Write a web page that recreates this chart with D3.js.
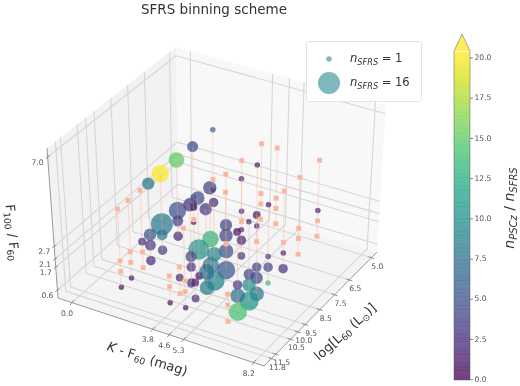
<!DOCTYPE html>
<html>
<head>
<meta charset="utf-8">
<script src="https://cdn.jsdelivr.net/npm/d3@7"></script>
<style>
    html, body { margin: 0; padding: 0; background: #fff; }
    svg { display: block; filter: blur(0.5px); }
    text { font-family: "DejaVu Sans", sans-serif; }
</style>
</head>
<body>
<svg id="chart" width="520" height="386"></svg>
<script>
// tick values, these are also the bin edges
const kTicks = [0.0, 3.8, 4.6, 5.3, 8.2]
const lTicks = [5.0, 6.5, 7.5, 8.5, 9.5, 10.0, 10.5, 11.5, 11.8]
const fTicks = [0.6, 1.7, 2.1, 2.7, 7.0]
const colorTicks = [0, 2.5, 5, 7.5, 10, 12.5, 15, 17.5, 20]

// filled bins: one entry per bubble, values are the bin centres
const bubbleK = [
    1.9, 1.9, 1.9, 1.9, 1.9, 1.9, 1.9, 1.9, 1.9, 1.9, 1.9, 1.9, 1.9, 1.9, 1.9, 1.9, 1.9, 1.9, 1.9, 1.9, 1.9,
    4.2, 4.2, 4.2, 4.2, 4.2, 4.2, 4.2, 4.2, 4.2, 4.2, 4.2, 4.2, 4.2, 4.2, 4.2, 4.2,
    4.95, 4.95, 4.95, 4.95, 4.95, 4.95, 4.95, 4.95, 4.95, 4.95, 4.95, 4.95, 4.95, 4.95, 4.95, 4.95,
    6.75, 6.75, 6.75, 6.75, 6.75, 6.75, 6.75, 6.75, 6.75, 6.75, 6.75, 6.75, 6.75, 6.75, 6.75, 6.75, 6.75, 6.75, 6.75]
const bubbleL = [
    5.75, 7, 8, 9, 9.75, 5.75, 7, 7, 7, 8, 8, 8, 9, 9, 9, 9.75, 9.75, 9.75, 10.25, 11, 11.65,
    9, 9.75, 10.25, 7, 8, 8, 8, 9, 9.75, 10.25, 9, 9.75, 10.25, 10.25, 11, 11.65,
    7, 8, 9.75, 10.25, 7, 8, 8, 8, 9, 9.75, 10.25, 9.75, 10.25, 11, 11, 11.65,
    9, 9.75, 10.25, 11, 9, 9, 9, 9.75, 9.75, 10.25, 10.25, 9.75, 10.25, 11, 11, 11, 5.75, 8, 8]
const bubbleF = [
    4.85, 4.85, 4.85, 4.85, 4.85, 1.9, 2.4, 1.9, 1.15, 2.4, 1.9, 1.15, 2.4, 1.9, 1.15, 2.4, 1.9, 1.15, 2.4, 1.15, 1.15,
    4.85, 4.85, 4.85, 2.4, 2.4, 1.9, 1.15, 2.4, 2.4, 2.4, 1.15, 1.15, 1.9, 1.15, 1.9, 1.15,
    4.85, 4.85, 4.85, 4.85, 1.9, 2.4, 1.9, 1.15, 1.15, 2.4, 1.9, 1.15, 1.15, 1.9, 1.15, 1.15,
    4.85, 4.85, 4.85, 4.85, 2.4, 1.9, 1.15, 2.4, 1.9, 2.4, 1.9, 1.15, 1.15, 2.4, 1.9, 1.15, 2.4, 1.9, 1.15]
const bubbleN = [
    1, 4, 8, 10, 5, 1, 1, 2, 1, 10, 4, 3, 16, 4, 3, 5, 4, 3, 2, 1, 1,
    6, 6, 6, 1, 5, 6, 7, 9, 14, 4, 9, 2, 3, 3, 2, 1,
    1, 1, 3, 5, 1, 1, 3, 2, 11, 7, 8, 13, 7, 2, 2, 1,
    1, 2, 1, 2, 1, 3, 1, 3, 5, 4, 6, 7, 12, 3, 7, 11, 1, 1, 3]
const bubbleRatio = [
    6, 4.5, 15, 20, 7.5, 3, 6, 0.8, 1, 5, 3.5, 2.5, 8, 7.5, 4, 5, 3.5, 2.5, 2.5, 1.5, 1.5,
    4, 4.5, 3, 2.5, 4, 4, 5, 13, 10, 4, 8, 1, 3, 3, 2, 1,
    1.5, 2, 2.5, 3.5, 2, 2, 2, 3.5, 5.5, 9, 7.5, 9, 8.5, 2, 3, 1,
    1.5, 1, 2, 0.8, 3, 4, 14, 4, 4.5, 4, 10, 8, 10.5, 3.5, 7, 14, 2, 2, 3]

// empty-SFRS bins, drawn as the orange markers
const squareK = [
    1.9, 1.9, 1.9, 1.9, 1.9, 1.9, 1.9, 1.9, 1.9, 1.9,
    4.2, 4.2, 4.2, 4.2, 4.2, 4.2, 4.2, 4.2, 4.2, 4.2, 4.2,
    4.95, 4.95, 4.95, 4.95, 4.95, 4.95, 4.95, 4.95, 4.95, 4.95, 4.95,
    6.75, 6.75, 6.75, 6.75, 6.75, 6.75, 6.75, 6.75, 6.75, 6.75, 6.75, 6.75]
const squareL = [
    10.25, 11, 11.65, 5.75, 11.65, 11.65, 11, 11, 10.25, 10.25,
    5.75, 5.75, 5.75, 5.75, 7, 7, 8, 11, 11.65, 11.65, 11,
    5.75, 5.75, 5.75, 5.75, 9, 9, 11, 11.65, 11.65, 11.65, 7,
    5.75, 5.75, 5.75, 7, 7, 7, 7, 8, 8, 11.65, 11.65, 11.65]
const squareF = [
    4.85, 4.85, 4.85, 2.4, 2.4, 1.9, 2.4, 1.9, 1.9, 1.15,
    4.85, 2.4, 1.9, 1.15, 4.85, 1.9, 4.85, 2.4, 2.4, 1.9, 1.15,
    4.85, 2.4, 1.9, 1.15, 4.85, 2.4, 4.85, 4.85, 2.4, 1.9, 1.15,
    4.85, 1.9, 1.15, 4.85, 2.4, 1.9, 1.15, 4.85, 2.4, 2.4, 1.9, 1.15]

const svg = d3.select('#chart')

// normalised box coordinates
const ku = d3.scaleLinear().domain(kTicks).range([0.068, 0.46, 0.54, 0.61, 0.95])
const lv = d3.scaleLinear().domain([5, 11.8]).range([0.05, 0.935])
const fw = d3.scaleLinear().domain([0.6, 7]).range([0.053, 0.94])
const radius = d3.scaleSqrt().domain([0, 16]).range([0, 11])
const color = d3.scaleSequential(d3.interpolateViridis).domain([0, 20])

// screen position of the box corners (perspective is close to trilinear here)
const floorBack = [178, 192], floorLeft = [58, 298], floorFront = [264, 366], floorRight = [377, 252]
const topBack = [176, 47], topLeft = [47, 148], topFront = [263, 206], topRight = [386, 105]

function box(u, v, w) {
    const back = d3.interpolate(floorBack, floorRight)(u)
    const near = d3.interpolate(floorLeft, floorFront)(u)
    const tBack = d3.interpolate(topBack, topRight)(u)
    const tNear = d3.interpolate(topLeft, topFront)(u)
    const low = d3.interpolate(back, near)(v)
    const high = d3.interpolate(tBack, tNear)(v)
    return d3.interpolate(low, high)(w)
}
const pt = (k, l, f) => box(ku(k), lv(l), fw(f))

const line = d3.line()
const poly = pts => line(pts) + 'Z'

// panes
const panes = svg.append('g')
panes.append('path').attr('d', poly([box(0, 0, 0), box(0, 1, 0), box(0, 1, 1), box(0, 0, 1)])).attr('fill', '#f2f2f2')
panes.append('path').attr('d', poly([box(0, 0, 0), box(1, 0, 0), box(1, 0, 1), box(0, 0, 1)])).attr('fill', '#f8f8f8')
panes.append('path').attr('d', poly([box(0, 0, 0), box(1, 0, 0), box(1, 1, 0), box(0, 1, 0)])).attr('fill', '#f4f4f4')

// grid
const gridSegs = []
kTicks.forEach(k => {
    const u = ku(k)
    gridSegs.push([box(u, 0, 0), box(u, 1, 0)])
    gridSegs.push([box(u, 0, 0), box(u, 0, 1)])
})
lTicks.forEach(l => {
    const v = lv(l)
    gridSegs.push([box(0, v, 0), box(1, v, 0)])
    gridSegs.push([box(0, v, 0), box(0, v, 1)])
})
fTicks.forEach(f => {
    const w = fw(f)
    gridSegs.push([box(0, 0, w), box(1, 0, w)])
    gridSegs.push([box(0, 0, w), box(0, 1, w)])
})
svg.append('g').selectAll('path')
    .data(gridSegs)
    .join('path')
    .attr('d', line)
    .attr('fill', 'none')
    .attr('stroke', '#d6d6d6')
    .attr('stroke-width', 1.1)

// axis edges
svg.append('path')
    .attr('d', line([box(0, 1, 1), box(0, 1, 0), box(1, 1, 0), box(1, 0, 0)]))
    .attr('fill', 'none')
    .attr('stroke', '#999')
    .attr('stroke-width', 1)

function drawTicks(vals, toPt, dir, labelOff, fmt) {
    const g = svg.append('g')
    vals.forEach(val => {
        const p = toPt(val)
        g.append('line')
            .attr('x1', p[0] - dir[0]).attr('y1', p[1] - dir[1])
            .attr('x2', p[0] + dir[0]).attr('y2', p[1] + dir[1])
            .attr('stroke', '#777').attr('stroke-width', 0.8)
        g.append('text')
            .attr('x', p[0] + labelOff[0]).attr('y', p[1] + labelOff[1])
            .attr('text-anchor', 'middle').attr('dominant-baseline', 'middle')
            .attr('font-size', 7.6).attr('fill', '#555')
            .text(fmt(val))
    })
}
const fmt1 = d3.format('.1f')
drawTicks(kTicks, k => box(ku(k), 1, 0), [2, -2.5], [-5, 11], fmt1)
drawTicks(lTicks, l => box(1, lv(l), 0), [-3, -1], [6, 9], fmt1)
drawTicks(fTicks, f => box(0, 1, fw(f)), [2, -1.5], [-10, 6], fmt1)

// bubbles, back to front
const bubbles = bubbleK.map((k, i) => ({k, l: bubbleL[i], f: bubbleF[i], n: bubbleN[i], ratio: bubbleRatio[i]}))
const squares = squareK.map((k, i) => ({k, l: squareL[i], f: squareF[i]}))
bubbles.sort((a, b) => (ku(a.k) + lv(a.l) - fw(a.f) * 0.1) - (ku(b.k) + lv(b.l) - fw(b.f) * 0.1))

svg.append('g').selectAll('circle')
    .data(bubbles)
    .join('circle')
    .attr('cx', d => pt(d.k, d.l, d.f)[0])
    .attr('cy', d => pt(d.k, d.l, d.f)[1])
    .attr('r', d => radius(d.n))
    .attr('fill', d => color(d.ratio))
    .attr('fill-opacity', 0.72)

// vertical stems joining every bin of a column
const columns = d3.rollups(
    bubbles.concat(squares),
    rows => d3.extent(rows, d => d.f),
    d => d.k + '|' + d.l
)
svg.append('g').selectAll('path')
    .data(columns)
    .join('path')
    .attr('d', d => {
        const [k, l] = d[0].split('|').map(Number)
        return line([pt(k, l, d[1][0]), pt(k, l, d[1][1])])
    })
    .attr('stroke', '#f6a98c')
    .attr('stroke-opacity', 0.3)
    .attr('stroke-width', 1.2)

const sq = d3.symbol().type(d3.symbolSquare).size(26)
const xm = d3.symbol().type(d3.symbolX).size(10)
const marks = svg.append('g').selectAll('g')
    .data(squares)
    .join('g')
    .attr('transform', d => `translate(${pt(d.k, d.l, d.f)})`)
marks.append('path').attr('d', sq()).attr('fill', '#fbc3ae')
marks.append('path').attr('d', xm()).attr('fill', 'none').attr('stroke', '#f5a88c').attr('stroke-width', 1)

// titles and axis labels
svg.append('text')
    .attr('x', 214).attr('y', 14).attr('text-anchor', 'middle')
    .attr('font-size', 13.5).attr('fill', '#333')
    .text('SFRS binning scheme')

function axisLabel(x, y, rot, parts, size) {
    const t = svg.append('text')
        .attr('transform', `translate(${x},${y}) rotate(${rot})`)
        .attr('text-anchor', 'middle')
        .attr('font-size', size).attr('fill', '#333')
    parts.forEach(p => {
        const s = t.append('tspan').text(p.t)
        if (p.i) s.attr('font-style', 'italic')
        if (p.sub) s.attr('dy', size * 0.2).attr('font-size', size * 0.7)
        if (p.up) s.attr('dy', -size * 0.2)
    })
    return t
}
axisLabel(8, 233, 85, [{t: 'F'}, {t: '100', sub: 1}, {t: ' / F', up: 1}, {t: '60', sub: 1}], 13)
axisLabel(146, 363, 18, [{t: 'K', i: 1}, {t: ' - F'}, {t: '60', sub: 1}, {t: ' (mag)', up: 1}], 13)
axisLabel(348, 335, -42, [{t: 'log[L'}, {t: '60', sub: 1}, {t: ' (L', up: 1}, {t: '⊙', sub: 1}, {t: ')]', up: 1}], 13)

// legend
const legend = svg.append('g')
legend.append('rect')
    .attr('x', 306.5).attr('y', 41.5).attr('width', 115).attr('height', 60).attr('rx', 2)
    .attr('fill', '#fff').attr('stroke', '#e4e4e4')
const legendN = [1, 16]
legendN.forEach((n, i) => {
    const cy = i ? 83 : 59
    legend.append('circle').attr('cx', 329).attr('cy', cy).attr('r', radius(n))
        .attr('fill', '#7db9bd')
    const t = legend.append('text').attr('x', 350).attr('y', cy + 3).attr('font-size', 11.5).attr('fill', '#333')
    t.append('tspan').attr('font-style', 'italic').text('n')
    t.append('tspan').attr('font-style', 'italic').attr('font-size', 8.2).attr('dy', 2.5).text('SFRS')
    t.append('tspan').attr('dy', -2.5).text(' = ' + n)
})

// colour bar
const barY = d3.scaleLinear().domain([0, 20]).range([379.7, 58])
const barX = 454, barW = 16, barTop = 51
const bandVals = d3.range(0, 20.4, 0.2)
const bar = svg.append('g')
bar.selectAll('rect')
    .data(bandVals)
    .join('rect')
    .attr('x', barX)
    .attr('width', barW)
    .attr('y', d => Math.max(barTop, barY(d + 0.2)))
    .attr('height', d => barY(d) - Math.max(barTop, barY(d + 0.2)) + 0.3)
    .attr('fill', d => color(d))
    .attr('fill-opacity', 0.75)
bar.append('path')
    .attr('d', poly([[barX, barTop], [barX + barW / 2, 34], [barX + barW, barTop]]))
    .attr('fill', color(20)).attr('fill-opacity', 0.75)
bar.append('path')
    .attr('d', poly([[barX, 380], [barX, barTop], [barX + barW / 2, 34], [barX + barW, barTop], [barX + barW, 380]]))
    .attr('fill', 'none').attr('stroke', '#555').attr('stroke-opacity', 0.6).attr('stroke-width', 0.8)
colorTicks.forEach(v => {
    bar.append('line')
        .attr('x1', barX + barW).attr('x2', barX + barW + 3)
        .attr('y1', barY(v)).attr('y2', barY(v))
        .attr('stroke', '#666').attr('stroke-width', 0.8)
    bar.append('text')
        .attr('x', barX + barW + 4.5).attr('y', barY(v))
        .attr('dominant-baseline', 'middle')
        .attr('font-size', 7.6).attr('fill', '#555')
        .text(fmt1(v))
})
const cbl = svg.append('text')
    .attr('transform', 'translate(514,208) rotate(-90)')
    .attr('text-anchor', 'middle')
    .attr('font-size', 14).attr('fill', '#333')
cbl.append('tspan').attr('font-style', 'italic').text('n')
cbl.append('tspan').attr('font-style', 'italic').attr('font-size', 10).attr('dy', 3).text('PSCz')
cbl.append('tspan').attr('dy', -3).text(' / ')
cbl.append('tspan').attr('font-style', 'italic').text('n')
cbl.append('tspan').attr('font-style', 'italic').attr('font-size', 10).attr('dy', 3).text('SFRS')
</script>
</body>
</html>
